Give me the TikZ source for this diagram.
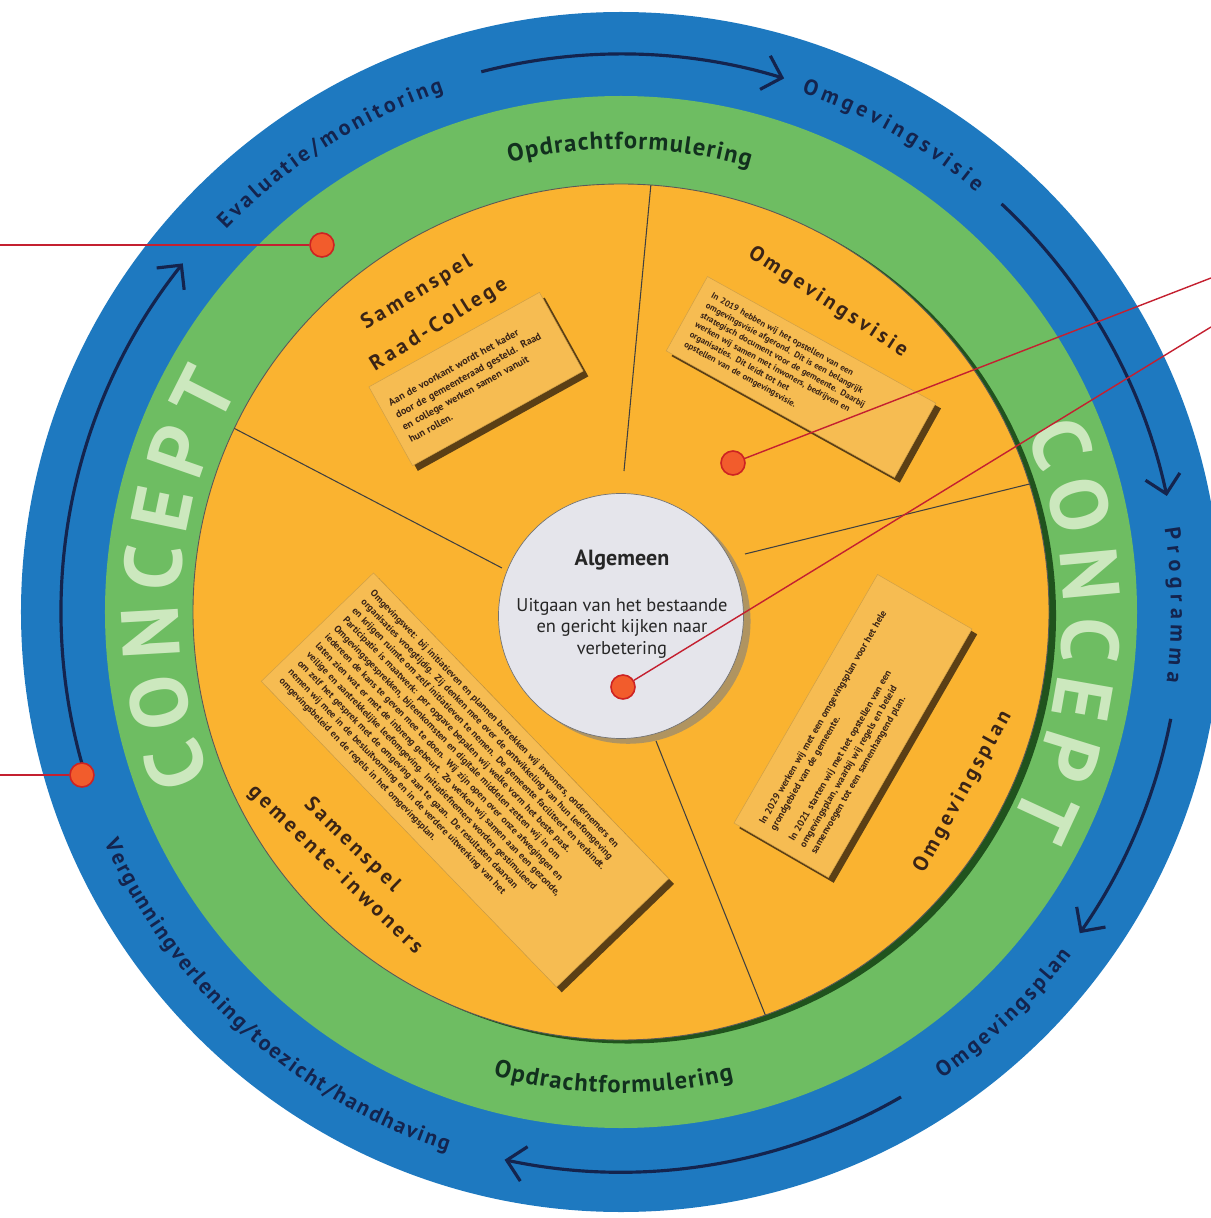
\documentclass[tikz,border=0pt]{standalone}
\usepackage{fontspec}
\setmainfont{PT Sans}
\newfontfamily\titlefont[LetterSpace=16]{PT Sans}
\usetikzlibrary{arrows.meta,decorations.text,shadows}

\definecolor{ringblue}{RGB}{30,121,192}
\definecolor{ringgreen}{RGB}{110,189,98}
\definecolor{sectororange}{RGB}{250,179,48}
\definecolor{boxorange}{RGB}{246,188,82}
\definecolor{centergrey}{RGB}{229,229,235}
\definecolor{conceptgreen}{RGB}{204,232,190}
\definecolor{navytext}{RGB}{20,36,78}
\definecolor{greentext}{RGB}{18,48,30}
\definecolor{browntext}{RGB}{58,36,22}
\definecolor{dotfill}{RGB}{242,92,44}
\definecolor{dotline}{RGB}{205,35,35}
\definecolor{calloutred}{RGB}{196,32,48}

\begin{document}
\begin{tikzpicture}[font=\small,
  ringlabel/.style 2 args={decorate, decoration={text along path, text align=center,
    text color=navytext, text={|\bfseries\fontsize{12.5}{14}\selectfont\kern#1|#2}}},
  greenlabel/.style={decorate, decoration={text along path, text align=center,
    text color=greentext, text={|\bfseries\fontsize{14}{16}\selectfont\kern0.7pt|#1}}},
  conceptlabel/.style={decorate, decoration={text along path, text align=center,
    text color=conceptgreen, text={|\bfseries\fontsize{46}{50}\selectfont\kern7pt|#1}}},
  ringarrow/.style={draw=navytext, line width=1.8pt,
    -{Straight Barb[length=10pt,width=20pt]}},
  titlelabel/.style={text=browntext, font=\titlefont\bfseries\fontsize{12}{14}\selectfont},
  infobox/.style={fill=boxorange, draw=boxorange!85!black, line width=.3pt,
    drop shadow={shadow xshift=3pt, shadow yshift=-3pt, opacity=.75, fill=black!80!brown},
    text=browntext, align=left, inner sep=4pt,
    font=\bfseries\fontsize{5.5}{7.2}\selectfont},
  divider/.style={draw=black!75, line width=.6pt},
  dot/.style={circle, fill=dotfill, draw=dotline, line width=.9pt,
    minimum size=.48cm, inner sep=0pt},
  callout/.style={draw=calloutred, line width=.8pt}]

  \useasboundingbox (-12.42,-12.12) rectangle (11.8,12.24);

  % rings
  \fill[ringblue] (0,0) circle (12);
  \fill[ringgreen] (0,0) circle (10.32);
  \filldraw[fill=sectororange, draw=black!65, line width=.5pt,
    drop shadow={shadow xshift=4pt, shadow yshift=-2pt, opacity=.7, fill=black!85!green}] (0,0) circle (8.56);

  % sector dividers
  \draw[divider] (86:8.56) -- (0.06,2.82);
  \draw[divider] (154.6:8.56) -- (-2.38,0.88);
  \draw[divider] (17.4:8.56) -- (2.48,1.16);
  \draw[divider] (-70.3:8.56) -- (0.7,-2.58);

  % centre
  \filldraw[fill=centergrey, draw=black!55, line width=.4pt,
    drop shadow={shadow xshift=4pt, shadow yshift=-3pt, opacity=.6}] (0,-0.08) circle (2.45);
  \node[text=black!85, font=\bfseries\fontsize{12.5}{15}\selectfont] (algemeen) at (0.02,1.04) {Algemeen};
  \node[text=black!85, align=center, font=\fontsize{10.5}{12.2}\selectfont] (uitgaan) at (0.02,-0.32)
    {Uitgaan van het bestaande\\en gericht kijken naar\\verbetering};

  % blue ring
  \path[ringlabel={1.8pt}{Evaluatie/monitoring}] (165:11.0) arc[start angle=165, end angle=80, radius=11.0];
  \path[ringlabel={2.4pt}{Omgevingsvisie}] (98:11.0) arc[start angle=98, end angle=23, radius=11.0];
  \path[ringlabel={3.2pt}{Programma}] (38:11.0) arc[start angle=38, end angle=-36, radius=11.0];
  \path[ringlabel={1.6pt}{Omgevingsplan}] (-84:11.32) arc[start angle=-84, end angle=-9, radius=11.32];
  \path[ringlabel={1.1pt}{Vergunningverlening/toezicht/handhaving}] (170:11.32) arc[start angle=170, end angle=286, radius=11.32];

  \draw[ringarrow] (104.5:11.16) arc[start angle=104.5, end angle=73, radius=11.16];
  \draw[ringarrow] (47:11.16) arc[start angle=47, end angle=12, radius=11.16];
  \draw[ringarrow] (-11:11.2) arc[start angle=-11, end angle=-35, radius=11.2];
  \draw[ringarrow] (-60:11.2) arc[start angle=-60, end angle=-102, radius=11.2];
  \draw[ringarrow] (196.5:11.2) arc[start angle=196.5, end angle=141.5, radius=11.2];

  % green ring
  \path[greenlabel=Opdrachtformulering] (130:9.26) arc[start angle=130, end angle=48, radius=9.26];
  \path[greenlabel=Opdrachtformulering] (230:9.62) arc[start angle=230, end angle=308, radius=9.62];
  \path[conceptlabel=CONCEPT] (220:8.84) arc[start angle=220, end angle=133, radius=8.84];
  \path[conceptlabel=CONCEPT] (45:8.84) arc[start angle=45, end angle=-48, radius=8.84];

  % sectors
  \node[titlelabel, rotate=31] (samenraad) at (-4.08,6.38) {Samenspel};
  \node[titlelabel, rotate=32] (raadcollege) at (-3.64,5.74) {Raad-College};
  \node[infobox, rotate=29, minimum width=3.9cm, minimum height=1.8cm, text width=3.5cm,
    font=\bfseries\fontsize{5.8}{8}\selectfont] (raadbox) at (-2.9,4.66)
    {Aan de voorkant wordt het kader\\door de gemeenteraad gesteld. Raad\\en college werken samen vanuit\\hun rollen.};

  \node[titlelabel, rotate=-33] (visietitle) at (4.14,6.2) {Omgevingsvisie};
  \node[infobox, rotate=-29, minimum width=5.22cm, minimum height=1.7cm, text width=4.7cm,
    font=\bfseries\fontsize{5}{6.3}\selectfont] (visiebox) at (3.6,4.7)
    {In 2019 hebben wij het opstellen van een\\omgevingsvisie afgerond. Dit is een belangrijk\\strategisch document voor de gemeente. Daarbij\\werken wij samen met inwoners, bedrijven en\\organisaties. Dit leidt tot het\\opstellen van de omgevingsvisie.};

  \node[titlelabel, rotate=61] (plantitle) at (6.84,-3.6) {Omgevingsplan};
  \node[infobox, rotate=60, minimum width=5.74cm, minimum height=2.18cm, text width=5.2cm] (planbox) at (4.64,-2.28)
    {In 2029 werken wij met een omgevingsplan voor het hele\\grondgebied van de gemeente.\\[5pt]In 2021 starten wij met het opstellen van een\\omgevingsplan, waarbij wij regels en beleid\\samenvoegen tot een samenhangend plan.};

  \node[titlelabel, rotate=-44] (samengem) at (-5.38,-4.66) {Samenspel};
  \node[titlelabel, rotate=-44] (gemeente) at (-5.72,-5.16) {gemeente-inwoners};
  \node[infobox, rotate=-46, minimum width=8.5cm, minimum height=3.12cm, text width=8cm] (gemeentebox) at (-3.12,-3.36)
    {Omgevingswet: bij initiatieven en plannen betrekken wij inwoners, ondernemers en\\organisaties vroegtijdig. Zij denken mee over de ontwikkeling van hun leefomgeving\\en krijgen ruimte om zelf initiatieven te nemen. De gemeente faciliteert en verbindt.\\Participatie is maatwerk: per opgave bepalen wij welke vorm het beste past.\\Omgevingsgesprekken, bijeenkomsten en digitale middelen zetten wij in om\\iedereen de kans te geven mee te doen. Wij zijn open over onze afwegingen en\\laten zien wat er met de inbreng gebeurt. Zo werken wij samen aan een gezonde,\\veilige en aantrekkelijke leefomgeving. Initiatiefnemers worden gestimuleerd\\om zelf het gesprek met de omgeving aan te gaan. De resultaten daarvan\\nemen wij mee in de besluitvorming en in de verdere uitwerking van het\\omgevingsbeleid en de regels in het omgevingsplan.};

  % callouts
  \node[dot] (dotA) at (-5.98,7.34) {};
  \node[dot] (dotB) at (-10.78,-3.26) {};
  \node[dot] (dotC) at (2.24,2.98) {};
  \node[dot] (dotD) at (0.04,-1.5) {};
  \coordinate (endA) at (-12.42,7.34);
  \coordinate (endB) at (-12.42,-3.26);
  \coordinate (endC) at (11.8,6.68);
  \coordinate (endD) at (11.8,5.7);
  \draw[callout] (endA) -- (dotA);
  \draw[callout] (endB) -- (dotB);
  \draw[callout] (endC) -- (dotC);
  \draw[callout] (endD) -- (dotD);
\end{tikzpicture}
\end{document}
